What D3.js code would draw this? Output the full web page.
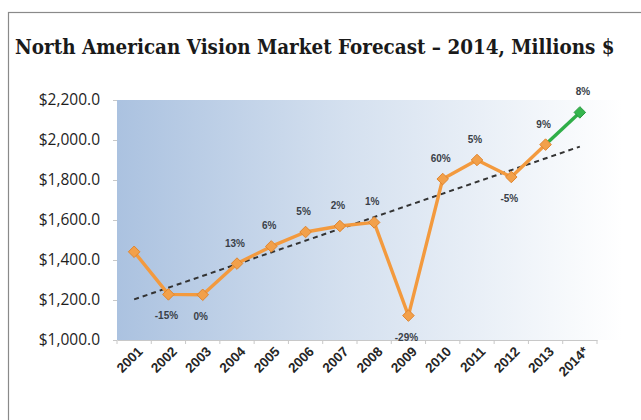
<!DOCTYPE html>
<html lang="en">
<head>
    <meta charset="UTF-8">
    <title>North American Vision Market Forecast</title>
    <script src="https://d3js.org/d3.v7.min.js"></script>
    <style>
        body { margin: 0; background: #fff; }
        svg { display: block; }
    </style>
</head>
<body>
    <svg id="chart" width="641" height="420"></svg>

    <script>
        // data
        const years = ["2001", "2002", "2003", "2004", "2005", "2006", "2007",
                       "2008", "2009", "2010", "2011", "2012", "2013", "2014*"];
        const values = [1441, 1228, 1226, 1382, 1468, 1540, 1570,
                        1588, 1122, 1805, 1900, 1815, 1977, 2138];
        const growthLabels = ["", "-15%", "0%", "13%", "6%", "5%", "2%",
                              "1%", "-29%", "60%", "5%", "-5%", "9%", "8%"];
        const yTicks = [1000, 1200, 1400, 1600, 1800, 2000, 2200];
        // dashed trend line end points
        const trendYears = ["2001", "2014*"];
        const trendValues = [1203, 1967];

        const svg = d3.select("#chart");

        // outer frame
        svg.append("rect")
            .attr("x", 8.5).attr("y", 12.5)
            .attr("width", 640).attr("height", 420)
            .attr("fill", "none").attr("stroke", "#8a8a8a").attr("stroke-width", 1.2);

        // title, font size fitted to the reference width
        const title = svg.append("text")
            .attr("x", 15).attr("y", 54)
            .attr("font-family", "'DejaVu Serif Condensed', 'DejaVu Serif', serif")
            .attr("font-stretch", "condensed")
            .attr("font-weight", "bold").attr("font-size", 20)
            .attr("fill", "#1a1a1a")
            .text("North American Vision Market Forecast \u2013 2014, Millions $");
        const tw = title.node().getComputedTextLength();
        title.attr("font-size", 20 * 600 / tw);

        const plotLeft = 117, plotRight = 597, plotTop = 100, plotBottom = 340;

        const x = d3.scaleBand().domain(years).range([plotLeft, plotRight]);
        const y = d3.scaleLinear().domain([1000, 2200]).range([plotBottom, plotTop]);
        const cx = d => x(d) + x.bandwidth() / 2;

        // gradient background
        const grad = svg.append("defs").append("linearGradient")
            .attr("id", "bg").attr("x1", "0").attr("x2", "1").attr("y1", "0").attr("y2", "0");
        grad.append("stop").attr("offset", "0%").attr("stop-color", "#abc2e0");
        grad.append("stop").attr("offset", "45%").attr("stop-color", "#d4e0ef");
        grad.append("stop").attr("offset", "100%").attr("stop-color", "#ffffff");

        svg.append("rect")
            .attr("x", plotLeft).attr("y", plotTop)
            .attr("width", 505).attr("height", plotBottom - plotTop)
            .attr("fill", "url(#bg)");

        // y axis
        const yAxis = svg.append("g")
            .attr("transform", `translate(${plotLeft},0)`)
            .call(d3.axisLeft(y).tickValues(yTicks).tickSize(4).tickPadding(13)
                .tickFormat(d => "$" + d3.format(",.1f")(d)));
        yAxis.select(".domain").remove();
        yAxis.selectAll("line").attr("stroke", "#c8c8c8");
        yAxis.selectAll("text")
            .attr("font-family", "'Open Sans', sans-serif")
            .attr("font-size", 15.5).attr("fill", "#1e1e1e");

        // x axis
        const xAxis = svg.append("g")
            .attr("transform", `translate(0,${plotBottom})`)
            .call(d3.axisBottom(x).tickSize(0).tickPadding(0));
        xAxis.select(".domain").attr("stroke", "#c8c8c8");
        xAxis.selectAll(".tick text")
            .attr("font-family", "'Liberation Sans', sans-serif")
            .attr("font-weight", "bold").attr("font-size", 13.5).attr("fill", "#262626")
            .attr("text-anchor", "end")
            .attr("transform", "translate(6,9) rotate(-45)")
            .attr("dy", "0.35em");
        // band boundary ticks
        svg.append("g").selectAll("line")
            .data(years.concat(["end"]))
            .join("line")
            .attr("x1", (d, i) => plotLeft + i * x.bandwidth())
            .attr("x2", (d, i) => plotLeft + i * x.bandwidth())
            .attr("y1", plotBottom).attr("y2", plotBottom + 4)
            .attr("stroke", "#c8c8c8");

        // trend line
        svg.append("line")
            .attr("x1", cx(trendYears[0])).attr("y1", y(trendValues[0]))
            .attr("x2", cx(trendYears[1])).attr("y2", y(trendValues[1]))
            .attr("stroke", "#333").attr("stroke-width", 2)
            .attr("stroke-dasharray", "5,4");

        const line = d3.line().x(d => cx(d.year)).y(d => y(d.value));
        const pts = years.map((yr, i) => ({ year: yr, value: values[i], label: growthLabels[i], i }));

        // actuals in orange, forecast segment in green
        svg.append("path")
            .datum(pts.slice(0, 13))
            .attr("d", line)
            .attr("fill", "none").attr("stroke", "#f39a3e").attr("stroke-width", 3.4)
            .attr("stroke-linejoin", "round");
        svg.append("path")
            .datum(pts.slice(12))
            .attr("d", line)
            .attr("fill", "none").attr("stroke", "#2fae48").attr("stroke-width", 3.4);

        // diamond markers
        svg.append("g").selectAll("path")
            .data(pts)
            .join("path")
            .attr("d", d3.symbol().type(d3.symbolDiamond2).size(85))
            .attr("transform", d => `translate(${cx(d.year)},${y(d.value)})`)
            .attr("fill", d => d.i === 13 ? "#35b54e" : "#f2a04a")
            .attr("stroke", d => d.i === 13 ? "#2a9a40" : "#e0852e")
            .attr("stroke-width", 1);

        // growth labels: negative / flat ones below the point
        const below = new Set(["2002", "2003", "2009", "2012"]);
        svg.append("g").selectAll("text")
            .data(pts.filter(d => d.label))
            .join("text")
            .attr("x", d => cx(d.year) + (d.i === 13 ? 3 : -2))
            .attr("y", d => y(d.value) + (below.has(d.year) ? 25 : -17))
            .attr("text-anchor", "middle")
            .attr("font-family", "'Liberation Sans', sans-serif")
            .attr("font-weight", "bold").attr("font-size", 10)
            .attr("fill", "#3a3f48")
            .text(d => d.label);
    </script>
</body>
</html>
